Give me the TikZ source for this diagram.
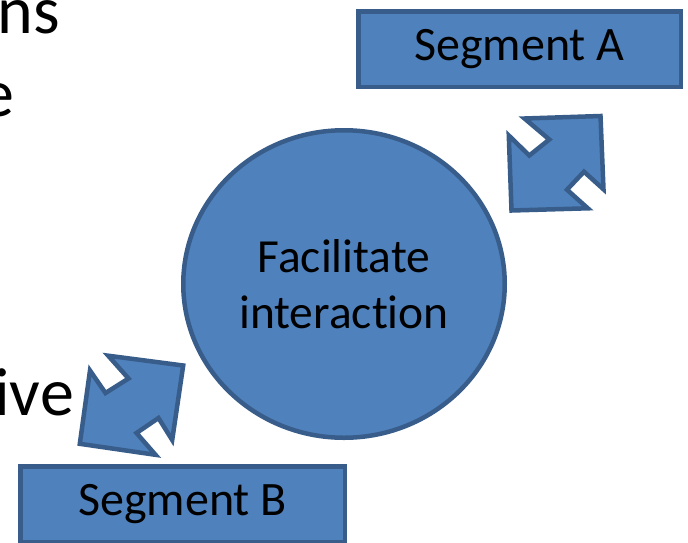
\documentclass[tikz,border=0pt]{standalone}
\usepackage{fontspec}
\setmainfont{Carlito}[Ligatures=NoCommon]
\usetikzlibrary{shapes.geometric}
\definecolor{accentfill}{HTML}{4F81BD}
\definecolor{accentline}{HTML}{385D8A}
\tikzset{
  blockshape/.style={fill=accentfill, draw=accentline, line width=4.5pt, line join=miter},
  segbox/.style={blockshape, rectangle, inner sep=0pt,
    font=\fontsize{48}{58}\selectfont},
  hub/.style={blockshape, ellipse, inner sep=0pt, align=center,
    font=\fontsize{47.5}{56}\selectfont},
  bullettext/.style={inner sep=0pt, anchor=base east,
    font=\fontsize{68}{82}\selectfont}
}
\begin{document}
\begin{tikzpicture}[x=1pt, y=-1pt]
  \useasboundingbox (0,0) rectangle (688,542);
  % remains of the slide's bullet text, cut off on the left
  \node[bullettext] (t1) at (60,33) {ns};
  \node[bullettext] (t2) at (15,116) {e};
  \node[bullettext] (t3) at (74,415) {ive};

  % central circle
  \node[hub, minimum width=321.5pt, minimum height=307.5pt] (hub) at (344,284)
    {Facilitate\\interaction};

  % the two segments
  \node[segbox, minimum width=322.5pt, minimum height=75.5pt] (segA) at (519.5,49) {Segment A};
  \node[segbox, minimum width=324.5pt, minimum height=75.5pt] (segB) at (182.5,504) {Segment B};

  % double-headed diagonal arrow between the hub and segment A
  \draw[blockshape] (600.5,116) -- (524.5,118.5) -- (549.3,139.5) -- (529.3,155.5)
    -- (508.8,135.5) -- (511.5,210.5) -- (587.8,208.3) -- (567,189.7)
    -- (584,171.7) -- (603.5,189.3) -- cycle;

  % double-headed diagonal arrow between the hub and segment B
  \draw[blockshape] (183.2,365.5) -- (108.2,355.7) -- (128.5,378.5) -- (105.5,393)
    -- (90,370.5) -- (79.8,443.8) -- (155.5,454.8) -- (136.5,433)
    -- (158.5,418) -- (172.2,440) -- cycle;
\end{tikzpicture}
\end{document}
